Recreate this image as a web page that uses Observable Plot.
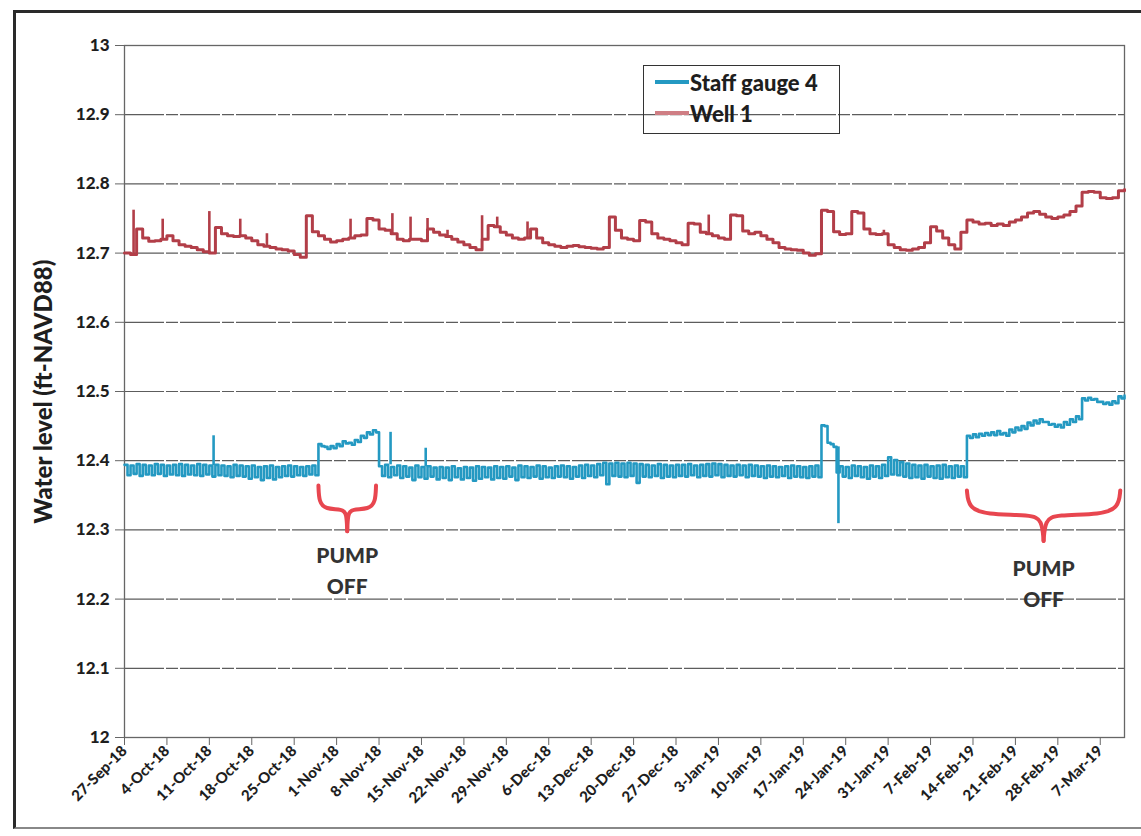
<!DOCTYPE html>
<html><head><meta charset="utf-8">
<script src="https://cdn.jsdelivr.net/npm/d3@7"></script>
<script src="https://cdn.jsdelivr.net/npm/@observablehq/plot@0.6"></script>
<style>
body{margin:0;background:#fff;}
#wrap{position:relative;width:1141px;height:836px;overflow:hidden;background:#fff;font-family:Lato,"Open Sans",sans-serif;}
#outer{position:absolute;left:13px;top:10px;width:1135px;height:819px;border-left:3px solid #2a2a2a;border-top:3px solid #2a2a2a;border-bottom:2px solid #888;box-sizing:border-box;}
#chart{position:absolute;left:0;top:0;}
#chart svg text{font-weight:900;}
#legend{position:absolute;left:643px;top:65px;width:197px;height:69px;border:1.5px solid #333;box-sizing:border-box;}
.lg{position:absolute;left:11px;height:26px;display:flex;align-items:center;font-weight:900;font-size:22px;color:#1e1e1e;}
.sw{width:34px;height:4px;margin-right:1px;}
</style></head>
<body><div id="wrap"><div id="outer"></div><div id="chart"></div>
<div id="legend">
 <div class="lg" style="top:3px"><span class="sw" id="sw1"></span><span id="t1"></span></div>
 <div class="lg" style="top:34px"><span class="sw" id="sw2"></span><span id="t2"></span></div>
</div></div>
<script>
// ---- data ----
const seriesNames = ["Staff gauge 4", "Well 1"];
const seriesColors = ["#2499c2", "#b23e48"];
const startDay = "27-Sep-18";
const tickLabels = ["27-Sep-18","4-Oct-18","11-Oct-18","18-Oct-18","25-Oct-18","1-Nov-18","8-Nov-18","15-Nov-18","22-Nov-18","29-Nov-18","6-Dec-18","13-Dec-18","20-Dec-18","27-Dec-18","3-Jan-19","10-Jan-19","17-Jan-19","24-Jan-19","31-Jan-19","7-Feb-19","14-Feb-19","21-Feb-19","28-Feb-19","7-Mar-19"];
const yTicks = [12, 12.1, 12.2, 12.3, 12.4, 12.5, 12.6, 12.7, 12.8, 12.9, 13];

// Well 1 daily level (day 0 = 27-Sep-18)
const well1 = [12.700,12.698,12.735,12.722,12.717,12.718,12.720,12.725,12.718,12.712,
12.710,12.708,12.705,12.702,12.700,12.737,12.728,12.725,12.724,12.725,
12.722,12.718,12.712,12.710,12.708,12.706,12.705,12.703,12.698,12.694,
12.754,12.731,12.725,12.720,12.716,12.718,12.720,12.722,12.725,12.726,
12.750,12.748,12.735,12.733,12.728,12.720,12.718,12.720,12.720,12.718,
12.735,12.730,12.726,12.724,12.720,12.716,12.712,12.708,12.705,12.720,
12.740,12.738,12.730,12.726,12.722,12.720,12.722,12.735,12.722,12.715,
12.712,12.710,12.708,12.710,12.711,12.709,12.708,12.707,12.706,12.708,
12.752,12.733,12.722,12.720,12.718,12.747,12.745,12.728,12.722,12.720,
12.718,12.715,12.712,12.743,12.742,12.730,12.728,12.725,12.722,12.720,
12.755,12.754,12.732,12.728,12.730,12.725,12.720,12.715,12.708,12.706,
12.705,12.704,12.700,12.697,12.699,12.762,12.760,12.731,12.727,12.728,
12.760,12.758,12.735,12.728,12.727,12.728,12.712,12.708,12.705,12.704,
12.706,12.708,12.715,12.738,12.732,12.722,12.712,12.706,12.730,12.748,
12.745,12.742,12.743,12.740,12.742,12.740,12.745,12.748,12.752,12.758,
12.760,12.756,12.752,12.750,12.752,12.755,12.760,12.768,12.788,12.789,
12.788,12.780,12.779,12.780,12.790,12.792];
// Well 1 short spikes: day (fraction) and peak level
const well1SpikeDay = [1.5, 6.3, 14.0, 19.1, 23.5, 37.3, 44.2, 47.2, 50.0, 53.3, 59.0, 61.5, 66.5, 96.4, 125.3];
const well1SpikePeak = [12.762, 12.749, 12.760, 12.749, 12.728, 12.749, 12.757, 12.752, 12.750, 12.733, 12.754, 12.752, 12.745, 12.755, 12.733];

// Staff gauge 4 daily high / low
const staffHigh = [12.394,12.393,12.395,12.394,12.393,12.395,12.394,12.393,12.394,12.395,
12.394,12.393,12.395,12.394,12.393,12.394,12.393,12.392,12.394,12.393,
12.392,12.393,12.391,12.392,12.393,12.391,12.392,12.393,12.392,12.391,
12.392,12.393,
12.424,12.420,12.421,12.424,12.428,12.426,12.430,12.436,12.441,12.444,
12.392,12.394,12.391,12.393,12.392,12.390,12.393,12.391,12.392,12.390,
12.391,12.390,12.392,12.389,12.391,12.390,12.392,12.391,12.390,12.392,
12.391,12.392,12.390,12.393,12.392,12.391,12.393,12.392,12.390,12.392,
12.393,12.392,12.391,12.393,12.394,12.393,12.395,12.397,12.396,12.397,
12.396,12.397,12.396,12.395,12.394,12.393,12.395,12.394,12.393,12.394,
12.394,12.395,12.393,12.394,12.395,12.396,12.395,12.394,12.393,12.394,
12.393,12.394,12.393,12.392,12.393,12.392,12.391,12.392,12.393,12.392,12.391,12.392,12.393,
12.451,12.426,12.420,
12.392,12.391,12.393,12.392,12.391,12.393,12.392,12.394,12.405,12.401,
12.398,12.396,12.394,12.393,12.394,12.392,12.393,12.394,12.392,12.393,12.392,
12.436,12.438,12.439,12.440,12.441,12.443,12.440,12.445,12.448,12.450,
12.455,12.458,12.460,12.456,12.453,12.452,12.456,12.460,12.464,12.490,
12.491,12.489,12.485,12.484,12.486,12.493,12.494];
const staffLow = [12.379,12.381,12.378,12.380,12.379,12.381,12.378,12.380,12.379,12.378,
12.380,12.379,12.378,12.380,12.377,12.379,12.378,12.376,12.378,12.377,
12.374,12.376,12.372,12.375,12.373,12.376,12.378,12.377,12.379,12.378,
12.380,12.379,
12.421,12.417,12.418,12.421,12.425,12.423,12.427,12.433,12.438,12.441,
12.378,12.376,12.379,12.375,12.377,12.372,12.376,12.374,12.377,12.373,
12.375,12.372,12.376,12.373,12.375,12.371,12.374,12.376,12.373,12.375,
12.374,12.377,12.372,12.376,12.375,12.377,12.374,12.376,12.375,12.377,
12.376,12.374,12.377,12.375,12.378,12.376,12.379,12.366,12.378,12.377,
12.376,12.378,12.368,12.377,12.376,12.378,12.375,12.377,12.376,12.378,
12.377,12.379,12.376,12.378,12.377,12.379,12.376,12.378,12.377,12.379,
12.376,12.378,12.377,12.375,12.377,12.376,12.378,12.375,12.377,12.376,12.375,12.377,12.376,
12.450,12.424,12.383,
12.377,12.375,12.378,12.376,12.374,12.377,12.375,12.378,12.380,12.379,
12.377,12.375,12.376,12.374,12.377,12.375,12.374,12.376,12.375,12.377,12.376,
12.433,12.434,12.436,12.437,12.437,12.438,12.436,12.441,12.444,12.446,
12.451,12.454,12.456,12.452,12.449,12.448,12.452,12.456,12.460,12.487,
12.488,12.485,12.482,12.481,12.483,12.490,12.491];
const staffSpikeDay = [14.7, 43.9, 49.7, 117.8];
const staffSpikePeak = [12.436, 12.441, 12.418, 12.309];

// "PUMP OFF" annotations: start/end day, brace levels (top, shoulder, tip), text level
const braceStart = [32.0, 139.0];
const braceEnd = [41.5, 164.3];
const braceTop = [12.364, 12.357];
const braceShoulder = [12.330, 12.322];
const braceTip = [12.298, 12.284];
const braceText = ["PUMP\nOFF", "PUMP\nOFF"];
const braceTextLevel = [12.285, 12.266];

// ---- build ----
const parse = d3.utcParse("%d-%b-%y");
const t0 = parse(startDay);
const DAY = 864e5;
const at = d => new Date(+t0 + d * DAY);
const lastDay = well1.length - 1;

const wellPts = well1.map((v, i) => ({t: at(i), v}));
const staffPts = [];
staffHigh.forEach((h, i) => {
  staffPts.push({t: at(i), v: h});
  if (i < lastDay) staffPts.push({t: at(i + 0.5), v: staffLow[i]});
});
const wellSpikes = well1SpikeDay.map((d, i) => ({t: at(d), base: well1[Math.floor(d)], peak: well1SpikePeak[i]}));
const staffSpikes = staffSpikeDay.map((d, i) => ({t: at(d), base: staffHigh[Math.floor(d)], peak: staffSpikePeak[i]}));

const braces = [];
braceStart.forEach((s, k) => {
  const e = braceEnd[k], c = (s + e) / 2, w = e - s;
  const top = braceTop[k], sh = braceShoulder[k], tip = braceTip[k];
  const left = [[s, top], [s + 0.01 * w, sh + 0.3 * (top - sh)], [s + 0.12 * w, sh], [c - 0.08 * w, sh], [c - 0.01 * w, sh - 0.2 * (sh - tip)], [c, tip]];
  const right = [[c, tip], [c + 0.01 * w, sh - 0.2 * (sh - tip)], [c + 0.08 * w, sh], [e - 0.12 * w, sh], [e - 0.01 * w, sh + 0.3 * (top - sh)], [e, top]];
  left.forEach(p => braces.push({id: k + "L", t: at(p[0]), v: p[1]}));
  right.forEach(p => braces.push({id: k + "R", t: at(p[0]), v: p[1]}));
});
const braceLabels = braceStart.map((s, k) => ({t: at((s + braceEnd[k]) / 2), v: braceTextLevel[k], text: braceText[k]}));

const xTicks = tickLabels.map(parse);
const fmtX = d3.utcFormat("%-d-%b-%y");

const chart = Plot.plot({
  width: 1141, height: 836,
  marginLeft: 124, marginRight: 17, marginTop: 45, marginBottom: 99,
  style: {fontFamily: "Lato, 'Open Sans', sans-serif", background: "transparent", color: "#1e1e1e"},
  x: {type: "utc", domain: [t0, at(lastDay)]},
  y: {domain: [12, 13]},
  marks: [
    Plot.gridY(yTicks, {stroke: "#333", strokeOpacity: 0.8, strokeWidth: 1.2, strokeDasharray: "40,2,12,2"}),
    Plot.frame({stroke: "#666", strokeWidth: 1.3}),
    Plot.axisY(yTicks, {tickFormat: d => String(d), tickSize: 9, tickPadding: 6, fontSize: 17, label: null, stroke: "#666"}),
    Plot.axisX(xTicks, {tickFormat: fmtX, tickRotate: -45, tickSize: 8, tickPadding: 3, fontSize: 15, label: null, stroke: "#666"}),
    Plot.text(["Water level (ft-NAVD88)"], {frameAnchor: "left", textAnchor: "middle", rotate: -90, dx: -80, fontSize: 24, fill: "#1e1e1e"}),
    Plot.line(wellPts, {x: "t", y: "v", curve: "step-after", stroke: seriesColors[1], strokeWidth: 3}),
    Plot.ruleX(wellSpikes, {x: "t", y1: "base", y2: "peak", stroke: seriesColors[1], strokeWidth: 2.6}),
    Plot.line(staffPts, {x: "t", y: "v", curve: "step-after", stroke: seriesColors[0], strokeWidth: 2.6}),
    Plot.ruleX(staffSpikes, {x: "t", y1: "base", y2: "peak", stroke: seriesColors[0], strokeWidth: 2.6}),
    Plot.line(braces, {x: "t", y: "v", z: "id", curve: "basis", stroke: "#e8464f", strokeWidth: 4, strokeLinecap: "round"}),
    Plot.text(braceLabels, {x: "t", y: "v", text: "text", lineAnchor: "top", lineHeight: 1.5, fontSize: 21, fill: "#333"})
  ]
});
document.getElementById("chart").appendChild(chart);
document.getElementById("sw1").style.background = seriesColors[0];
document.getElementById("sw2").style.background = "#cf7e84";
document.getElementById("t1").textContent = seriesNames[0];
document.getElementById("t2").textContent = seriesNames[1];
</script></body></html>
